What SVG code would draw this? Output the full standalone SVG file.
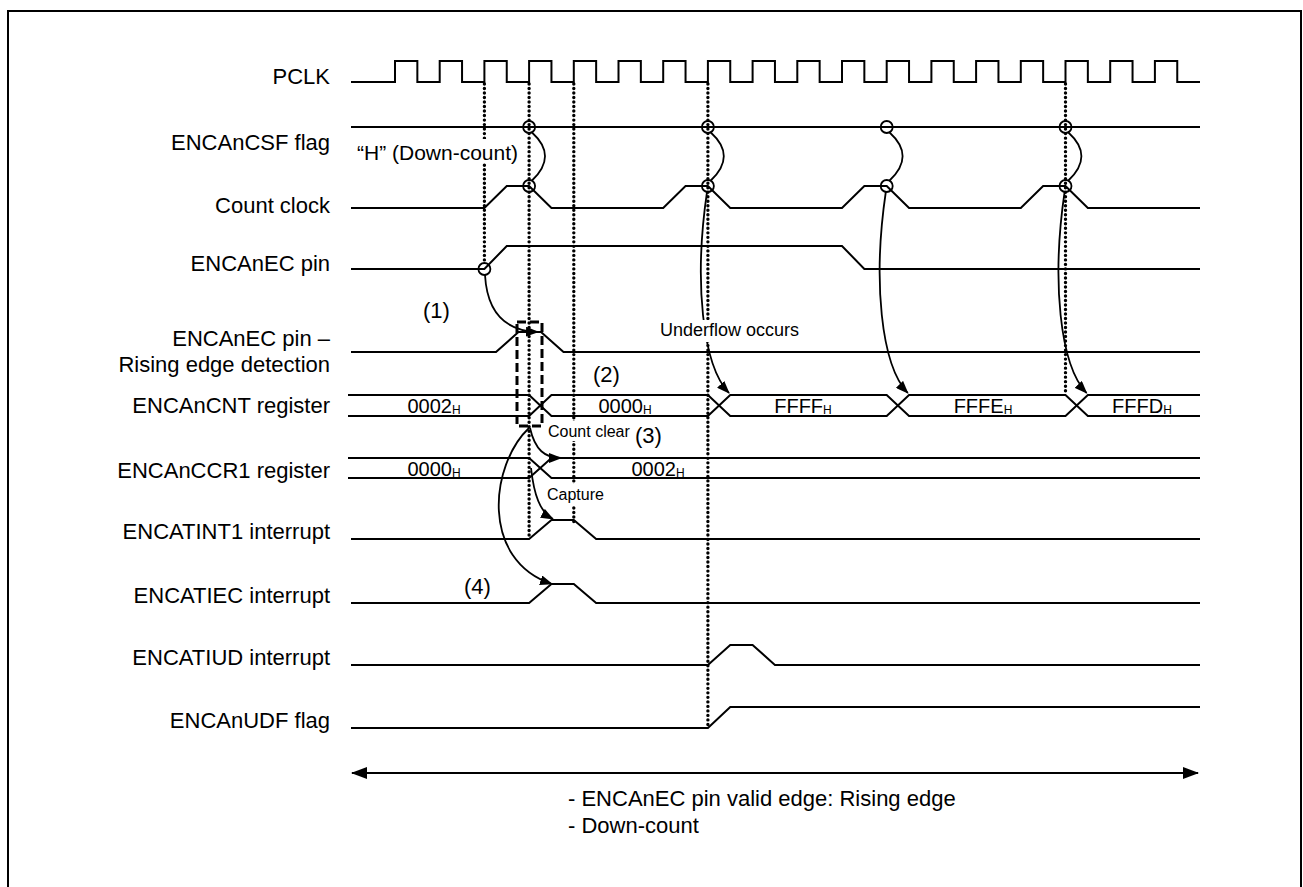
<svg xmlns="http://www.w3.org/2000/svg" width="1303" height="887" viewBox="0 0 1303 887">
<defs>
<style>
.sig{fill:none;stroke:#000;stroke-width:2;stroke-linejoin:miter}
.lbl{font-family:"Liberation Sans",Arial,sans-serif;font-size:22px;fill:#000;text-anchor:end}
.val{font-family:"Liberation Sans",Arial,sans-serif;font-size:20px;fill:#000;text-anchor:middle}
.sub{font-size:12px}
.ann{font-family:"Liberation Sans",Arial,sans-serif;font-size:16px;fill:#000}
.num{font-family:"Liberation Sans",Arial,sans-serif;font-size:22px;fill:#000}
.dot{fill:none;stroke:#000;stroke-width:3.4;stroke-dasharray:0.01 4.5;stroke-linecap:round}
.ring{fill:none;stroke:#000;stroke-width:1.8}
.arc{fill:none;stroke:#000;stroke-width:1.8}
.bg{fill:#fff}
</style>
<marker id="ah" viewBox="0 0 13 10" refX="12" refY="5" markerWidth="13" markerHeight="10" orient="auto" markerUnits="userSpaceOnUse"><path d="M0,0 L13,5 L0,10 z" fill="#000"/></marker>
<marker id="big" viewBox="0 0 16 12" refX="15" refY="6" markerWidth="16" markerHeight="12" orient="auto-start-reverse" markerUnits="userSpaceOnUse"><path d="M0,0 L16,6 L0,12 z" fill="#000"/></marker>
</defs>
<rect x="0" y="0" width="1303" height="887" fill="#fff"/>
<rect x="8" y="11" width="1293" height="900" fill="none" stroke="#000" stroke-width="2"/>

<g id="pclk">
<text class="lbl" x="330" y="84">PCLK</text>
<path class="sig" d="M351,82 H395 V61 H417.35 V82 H439.7 V61 H462.05 V82 H484.4 V61 H506.75 V82 H529.1 V61 H551.45 V82 H573.8 V61 H596.15 V82 H618.5 V61 H640.85 V82 H663.2 V61 H685.55 V82 H707.9 V61 H730.25 V82 H752.6 V61 H774.95 V82 H797.3 V61 H819.65 V82 H842 V61 H864.35 V82 H886.7 V61 H909.05 V82 H931.4 V61 H953.75 V82 H976.1 V61 H998.45 V82 H1020.8 V61 H1043.15 V82 H1065.5 V61 H1087.85 V82 H1110.2 V61 H1132.55 V82 H1154.9 V61 H1177.25 V82 H1200"/>
</g>

<g id="csf">
<text class="lbl" x="330" y="150">ENCAnCSF flag</text>
<path class="sig" d="M351,127 H1200"/>
</g>

<g id="countclock">
<text class="lbl" x="330" y="213">Count clock</text>
<path class="sig" d="M351,208 H484.4 L506.75,186 H529.1 L551.45,208 H663.2 L685.55,186 H707.9 L730.25,208 H842 L864.35,186 H886.7 L909.05,208 H1020.8 L1043.15,186 H1065.5 L1087.85,208 H1200"/>
</g>

<g id="ecpin">
<text class="lbl" x="330" y="271">ENCAnEC pin</text>
<path class="sig" d="M351,269 H484.4 L506.75,246 H842 L864.35,269 H1200"/>
</g>

<g id="edgedet">
<text class="lbl" x="330" y="346">ENCAnEC pin –</text>
<text class="lbl" x="330" y="372">Rising edge detection</text>
<path class="sig" d="M351,352 H496 L518.5,332 H541 L563.5,352 H1200"/>
</g>

<g id="cnt">
<text class="lbl" x="330" y="413">ENCAnCNT register</text>
<path class="sig" d="M348,395 H529.1 L551.45,416 H707.9 L730.25,395 H886.7 L909.05,416 H1065.5 L1087.85,395 H1200"/>
<path class="sig" d="M348,416 H529.1 L551.45,395 H707.9 L730.25,416 H886.7 L909.05,395 H1065.5 L1087.85,416 H1200"/>
<text class="val" x="434" y="413">0002<tspan class="sub" dy="1">H</tspan></text>
<text class="val" x="625" y="413">0000<tspan class="sub" dy="1">H</tspan></text>
<text class="val" x="803" y="413">FFFF<tspan class="sub" dy="1">H</tspan></text>
<text class="val" x="983" y="413">FFFE<tspan class="sub" dy="1">H</tspan></text>
<text class="val" x="1142" y="413">FFFD<tspan class="sub" dy="1">H</tspan></text>
</g>

<g id="ccr1">
<text class="lbl" x="330" y="478">ENCAnCCR1 register</text>
<path class="sig" d="M348,458 H529.1 L551.45,478 H1200"/>
<path class="sig" d="M348,478 H529.1 L551.45,458 H1200"/>
<text class="val" x="434" y="476">0000<tspan class="sub" dy="1">H</tspan></text>
<text class="val" x="658" y="476">0002<tspan class="sub" dy="1">H</tspan></text>
</g>

<g id="int1">
<text class="lbl" x="330" y="539">ENCATINT1 interrupt</text>
<path class="sig" d="M351,539 H529.1 L551.45,520 H573.8 L596.15,539 H1200"/>
</g>

<g id="iec">
<text class="lbl" x="330" y="603">ENCATIEC interrupt</text>
<path class="sig" d="M351,603 H529.1 L551.45,584 H573.8 L596.15,603 H1200"/>
</g>

<g id="iud">
<text class="lbl" x="330" y="665">ENCATIUD interrupt</text>
<path class="sig" d="M351,665 H707.9 L730.25,645 H752.6 L774.95,665 H1200"/>
</g>

<g id="udf">
<text class="lbl" x="330" y="728">ENCAnUDF flag</text>
<path class="sig" d="M351,728 H707.9 L730.25,707 H1200"/>
</g>

<g id="connectors">
<path class="dot" d="M484.4,84 V264"/>
<path class="dot" d="M529.1,84 V538"/>
<path class="dot" d="M573.8,84 V522"/>
<path class="dot" d="M707.9,84 V726"/>
<path class="dot" d="M1065.5,84 V392"/>

<circle class="ring" cx="529.1" cy="127" r="6"/>
<circle class="ring" cx="707.9" cy="127" r="6"/>
<circle class="ring" cx="886.7" cy="127" r="6"/>
<circle class="ring" cx="1065.5" cy="127" r="6"/>
<circle class="ring" cx="529.1" cy="186" r="6"/>
<circle class="ring" cx="707.9" cy="186" r="6"/>
<circle class="ring" cx="886.7" cy="186" r="6"/>
<circle class="ring" cx="1065.5" cy="186" r="6"/>
<circle class="ring" cx="484.4" cy="269" r="6"/>

<path class="arc" d="M532,132.5 Q558,156 532,180.5"/>
<path class="arc" d="M710.8,132.5 Q736.8,156 710.8,180.5"/>
<path class="arc" d="M889.6,132.5 Q915.6,156 889.6,180.5"/>
<path class="arc" d="M1068.4,132.5 Q1094.4,156 1068.4,180.5"/>

<path class="arc" d="M707,192 C694,280 702,365 729,393" marker-end="url(#ah)"/>
<path class="arc" d="M885.8,192 C872.8,280 880.8,365 907.8,393" marker-end="url(#ah)"/>
<path class="arc" d="M1064.6,192 C1051.6,280 1059.6,365 1086.6,393" marker-end="url(#ah)"/>

<path class="arc" d="M485,275 C487,310 503,331 538,332" marker-end="url(#ah)"/>
<rect x="517" y="322" width="25" height="104" fill="none" stroke="#000" stroke-width="3" stroke-dasharray="9 4"/>
<path class="arc" d="M530,428 C535,450 545,458 561,458" marker-end="url(#ah)"/>
<path class="arc" d="M531,468 C534,495 540,512 553,519" marker-end="url(#ah)"/>
<path class="arc" d="M529,428 C490,465 480,560 552,584" marker-end="url(#ah)"/>

<line x1="352" y1="773" x2="1198" y2="773" stroke="#000" stroke-width="2" marker-start="url(#big)" marker-end="url(#big)"/>
</g>

<g id="annotations">
<rect class="bg" x="355" y="139" width="167" height="24"/>
<text class="num" style="font-size:21px" x="357" y="160">“H” (Down-count)</text>
<text class="num" x="423" y="318">(1)</text>
<rect class="bg" x="658" y="320" width="148" height="22"/>
<text class="ann" style="font-size:18px" x="660" y="336">Underflow occurs</text>
<text class="num" x="593" y="382">(2)</text>
<rect class="bg" x="546" y="421" width="88" height="20"/>
<text class="ann" x="548" y="437">Count clear</text>
<text class="num" x="635" y="443">(3)</text>
<rect class="bg" x="545" y="484" width="67" height="22"/>
<text class="ann" x="547" y="500">Capture</text>
<text class="num" x="464" y="594">(4)</text>
<text class="num" x="568" y="806">- ENCAnEC pin valid edge: Rising edge</text>
<text class="num" x="568" y="833">- Down-count</text>
</g>
</svg>
